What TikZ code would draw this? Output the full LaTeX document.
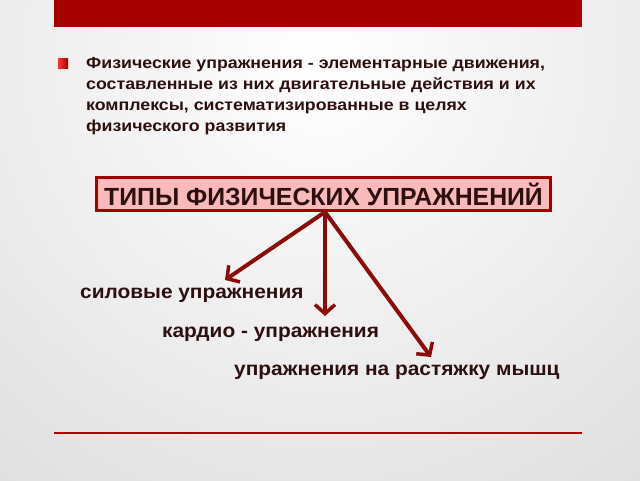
\documentclass[tikz,border=0pt]{standalone}
\usepackage{fontspec}
\setmainfont{Liberation Sans}
\newfontfamily\parafont{Liberation Sans}[FakeStretch=1.11]
\newfontfamily\itemfont{Liberation Sans}[FakeStretch=1.07]
\usetikzlibrary{arrows.meta}
\definecolor{bandred}{RGB}{168,0,0}
\definecolor{boxborder}{RGB}{160,0,0}
\definecolor{boxfill}{RGB}{248,186,186}
\definecolor{arrowred}{RGB}{140,10,10}
\definecolor{txt}{RGB}{45,15,15}
\definecolor{bggray}{RGB}{214,214,214}
\tikzset{
  para/.style={anchor=north west, align=left, text=txt, font=\parafont\bfseries\fontsize{16}{21}\selectfont, inner sep=0pt},
  header/.style={draw=boxborder, line width=3pt, fill=boxfill, text=txt, font=\bfseries\fontsize{24.8}{28}\selectfont, minimum width=454pt, minimum height=33pt, inner sep=0pt},
  item/.style={anchor=west, text=txt, font=\itemfont\bfseries\fontsize{19.5}{24}\selectfont, inner sep=0pt},
  conn/.style={draw=arrowred, line width=4pt, -{Straight Barb[length=9pt,width=20pt,line width=3.5pt]}},
}
\begin{document}
\begin{tikzpicture}[x=1pt,y=-1pt]
\useasboundingbox (0,0) rectangle (640,480);
\begin{scope}
\clip (0,0) rectangle (640,480);
\shade[inner color=white, outer color=bggray] (-380,-640) rectangle (1020,760);
\end{scope}
\fill[bandred] (54,0) rectangle (582,27);
\draw[boxborder!90!red, line width=2pt] (54,433) -- (582,433);
\shade[left color=red!80!white, right color=bandred] (58,58) rectangle (68,68);
\node[para] (p) at (86,57.5) {Физические упражнения - элементарные движения,\\составленные из них двигательные действия и их\\комплексы, систематизированные в целях\\физического развития};
\node[header] (h) at (323.5,194) {ТИПЫ ФИЗИЧЕСКИХ УПРАЖНЕНИЙ};
\node[item] (a) at (80,295) {силовые упражнения};
\node[item] (b) at (162,334) {кардио - упражнения};
\node[item] (c) at (234,372) {упражнения на растяжку мышц};
\coordinate (s) at (325,212);
\coordinate (ta) at (225,280);
\coordinate (tb) at (325,316);
\coordinate (tc) at (431,357);
\draw[conn] (s) -- (ta);
\draw[conn] (s) -- (tb);
\draw[conn] (s) -- (tc);
\end{tikzpicture}
\end{document}
